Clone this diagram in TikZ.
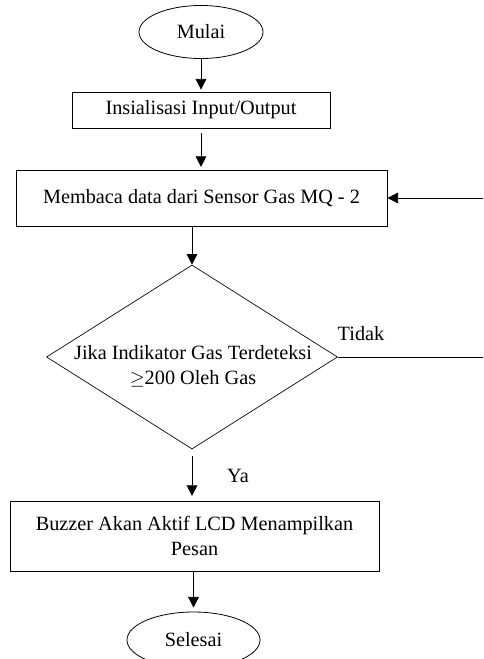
\documentclass[tikz,border=0pt]{standalone}
\usepackage{fontspec}
\setmainfont{Liberation Serif}
\usetikzlibrary{shapes.geometric,arrows.meta,positioning}

\begin{document}
\begin{tikzpicture}[x=0.75pt,y=-0.75pt,
    font=\fontsize{15.2}{18.5}\selectfont,
    terminal/.style={draw,ellipse,line width=0.6pt,inner sep=0pt},
    process/.style={draw,rectangle,line width=0.6pt,inner sep=0pt,align=center},
    decision/.style={draw,diamond,line width=0.5pt,inner sep=0pt},
    flow/.style={line width=0.6pt,-{Triangle[width=8pt,length=8pt]}}]
  \clip (0,0) rectangle (483,659);
  \node[terminal,minimum width=93pt,minimum height=39.75pt] (mulai) at (201,32) {Mulai};
  \node[process,minimum width=193.5pt,minimum height=27pt] (init) at (201,110) {Insialisasi Input/Output};
  \node[process,minimum width=278.25pt,minimum height=42pt] (baca) at (201.5,198) {Membaca data dari Sensor Gas MQ - 2};
  \node[decision,minimum width=218.25pt,minimum height=138pt] (dec) at (192,357) {};
  \node[align=center] (dectext) at (193,366) {Jika Indikator Gas Terdeteksi\\$\geq$200 Oleh Gas};
  \node[process,minimum width=276.75pt,minimum height=52.5pt] (buzz) at (194.5,536) {Buzzer Akan Aktif LCD Menampilkan\\Pesan};
  \node[terminal,minimum width=99.75pt,minimum height=42pt] (selesai) at (193.5,640) {Selesai};
  \node (tidak) at (361,334) {Tidak};
  \node (ya) at (238,476) {Ya};
  \coordinate (loop) at (495,357);

  \draw[flow,shorten >=1.5pt] (mulai) -- (init);
  \draw[flow,shorten <=3.5pt,shorten >=2pt] (init.south) -- (init.south |- baca.north);
  \draw[flow] (dec.north |- baca.south) -- (dec.north);
  \draw[flow,shorten <=5pt,shorten >=3.5pt] (dec.south) -- (dec.south |- buzz.north);
  \draw[flow,shorten >=3pt] (selesai.north |- buzz.south) -- (selesai.north);
  \draw[flow] (dec.east) -- (loop) |- (baca.east);
\end{tikzpicture}
\end{document}
